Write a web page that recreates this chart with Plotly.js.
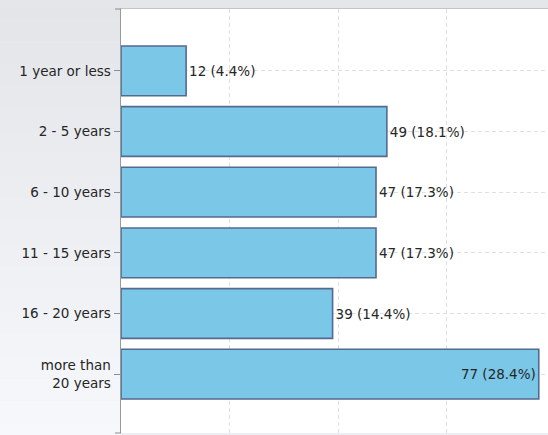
<!DOCTYPE html>
<html>
<head>
<meta charset="utf-8">
<script src="https://cdn.plot.ly/plotly-3.0.1.min.js"></script>
<style>
  html, body { margin: 0; padding: 0; background: #eceef1; }
  #chart { width: 548px; height: 435px; }
</style>
</head>
<body>
<div id="chart"></div>
<script>
const categories = ['1 year or less', '2 - 5 years', '6 - 10 years', '11 - 15 years', '16 - 20 years', 'more than<br>20 years'];
const counts = [12, 49, 47, 47, 39, 77];
const percents = [4.4, 18.1, 17.3, 17.3, 14.4, 28.4];

const labels = counts.map((c, i) => c + ' (' + percents[i].toFixed(1) + '%)');
const positions = counts.map(c => c > 70 ? 'inside' : 'outside');

// grey gradient behind the plot (paper area)
const bands = [];
const nBands = 20;
for (let i = 0; i < nBands; i++) {
    const t = i / (nBands - 1);
    const c = Math.round(0xe3 + t * (0xf6 - 0xe3));
    bands.push({
        type: 'rect', xref: 'paper', yref: 'paper', layer: 'below',
        x0: -0.3, x1: 0, y0: 1.03 - (i + 1) * 1.06 / nBands, y1: 1.03 - i * 1.06 / nBands,
        fillcolor: `rgb(${c},${c + 2},${c + 5})`, line: { width: 0 }
    });
}
bands.push({
    type: 'rect', xref: 'paper', yref: 'paper', layer: 'below',
    x0: -0.3, x1: 1.01, y0: 1, y1: 1.03,
    fillcolor: '#e4e6ea', line: { width: 0 }
});
// edge ticks on the category axis
bands.push({ type: 'line', xref: 'paper', yref: 'paper', x0: -0.014, x1: 0, y0: 1, y1: 1, line: { color: '#8c8c8c', width: 1 } });
bands.push({ type: 'line', xref: 'paper', yref: 'paper', x0: -0.014, x1: 0, y0: 0, y1: 0, line: { color: '#8c8c8c', width: 1 } });

const font = 'DejaVu Sans, sans-serif';

const data = [{
    type: 'bar',
    orientation: 'h',
    y: categories,
    x: counts,
    width: 0.82,
    text: labels,
    textposition: positions,
    insidetextanchor: 'end',
    textfont: { family: font, size: 13.5, color: '#262626' },
    marker: { color: '#7ac7e8', line: { color: '#566a90', width: 1.6 } },
    cliponaxis: false,
    hoverinfo: 'none'
}];

const layout = {
    width: 548,
    height: 435,
    margin: { l: 121, r: 0, t: 9, b: 2 },
    paper_bgcolor: '#eceef1',
    plot_bgcolor: '#ffffff',
    showlegend: false,
    font: { family: font, size: 13.5, color: '#262626' },
    xaxis: {
        range: [0, 78.7],
        dtick: 20,
        side: 'top',
        showticklabels: false,
        ticks: '',
        showgrid: true,
        gridcolor: '#e0e0e0',
        griddash: '4px,3px',
        zeroline: false,
        showline: true,
        linecolor: '#c4c4c4',
        linewidth: 1.5,
        fixedrange: true
    },
    yaxis: {
        type: 'category',
        range: [5.97, -1.02],
        ticks: 'outside',
        ticklen: 6,
        tickcolor: '#8c8c8c',
        showgrid: true,
        gridcolor: '#e0e0e0',
        griddash: '4px,3px',
        showline: true,
        linecolor: '#9a9a9a',
        linewidth: 1.5,
        zeroline: false,
        tickfont: { family: font, size: 13.5, color: '#262626' },
        fixedrange: true
    },
    shapes: bands
};

Plotly.newPlot('chart', data, layout, { displayModeBar: false, staticPlot: true });
</script>
</body>
</html>
